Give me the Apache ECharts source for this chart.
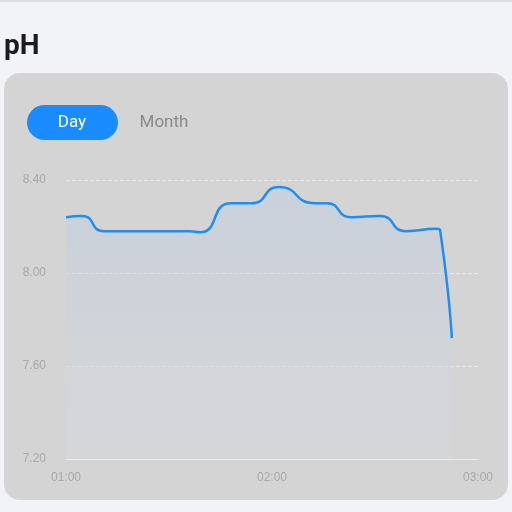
<!DOCTYPE html>
<html><head><meta charset="utf-8">
<script src="https://cdn.jsdelivr.net/npm/echarts@6/dist/echarts.min.js"></script>
<style>html,body{margin:0;padding:0;background:#f2f3f7}#c{width:512px;height:512px}</style>
</head><body><div id="c"></div>
<script>
const minutes = [0, 4.7, 11, 20, 36, 39, 48, 54, 62, 72.5, 76, 83, 91.5, 99, 108, 109, 112.4];
const phValues = [8.24, 8.245, 8.18, 8.18, 8.18, 8.175, 8.30, 8.30, 8.37, 8.30, 8.30, 8.24, 8.245, 8.18, 8.19, 8.18, 7.72];
const yTicks = [7.2, 7.6, 8.0, 8.4];
const xTickLabels = {0: '01:00', 60: '02:00', 120: '03:00'};
const chart = echarts.init(document.getElementById('c'));
chart.setOption({
  animation: false,
  backgroundColor: '#f2f3f7',
  graphic: [
    {type:'rect', shape:{x:0,y:0,width:512,height:2}, style:{fill:'#dcdde2'}, z:-10},
    {type:'text', left:4, top:33, style:{text:'pH', fontSize:28, fontWeight:'bold', fill:'#1c1c1e', fontFamily:'Roboto'}},
    {type:'rect', shape:{x:4,y:73,width:504,height:427,r:16}, style:{fill:'#d4d4d4'}, z:-5},
    {type:'rect', shape:{x:27,y:105,width:91,height:35,r:17.5}, style:{fill:'#1a8cff'}},
    {type:'text', x:72, y:123, style:{text:'Day', fontSize:17, fill:'#fff', align:'center', verticalAlign:'middle', fontFamily:'Roboto'}},
    {type:'text', x:164, y:123, style:{text:'Month', fontSize:17, fill:'#8a8a8e', align:'center', verticalAlign:'middle', fontFamily:'Roboto'}}
  ],
  grid: {left:66, right:34, top:180, bottom:53},
  xAxis: {type:'value', min:0, max:120, interval:60,
    axisLine:{show:true, lineStyle:{color:'#ececec'}}, axisTick:{show:false}, splitLine:{show:false},
    axisLabel:{color:'#a8a8a8', fontSize:12, margin:13, formatter:v=>xTickLabels[v]||''}},
  yAxis: {type:'value', min:7.2, max:8.4, interval:0.4,
    axisLine:{show:false}, axisTick:{show:false},
    splitLine:{lineStyle:{color:'#e8e8e8', type:'dashed'}},
    axisLabel:{color:'#a8a8a8', fontSize:12, margin:20, formatter:v=>v.toFixed(2)}},
  series: [{type:'line', smooth:0.6, symbol:'none',
    data: minutes.map((m,i)=>[m, phValues[i]]),
    lineStyle:{color:'#1f8ef0', width:2.5},
    areaStyle:{origin:'start', color:new echarts.graphic.LinearGradient(0,0,0,1,[{offset:0,color:'rgba(190,205,225,0.7)'},{offset:1,color:'rgba(215,218,225,0.5)'}])}
  }]
});
</script></body></html>
